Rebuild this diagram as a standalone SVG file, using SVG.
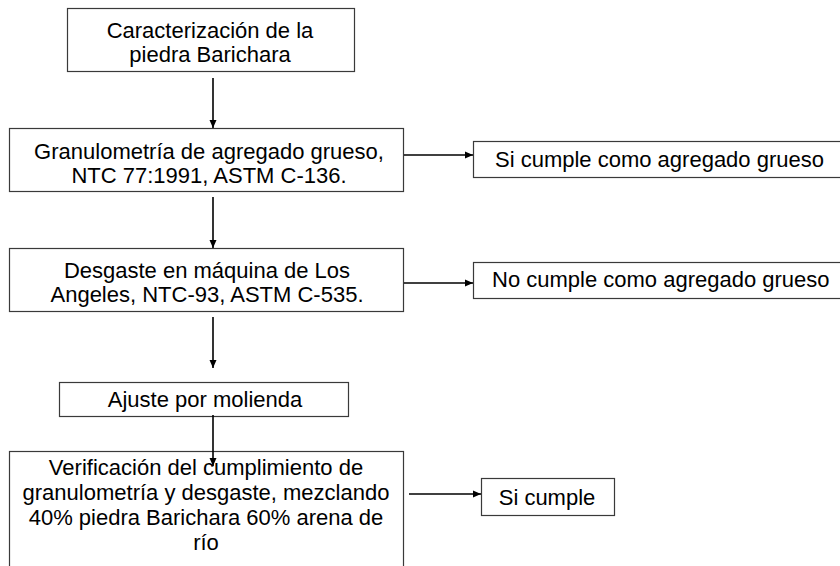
<svg xmlns="http://www.w3.org/2000/svg" width="840" height="566" viewBox="0 0 840 566">
<style>
.box{fill:#fff;stroke:#3a3a3a;stroke-width:1.2}
.t{font-family:"Liberation Sans",Arial,sans-serif;font-size:22px;fill:#000}
.c{text-anchor:middle}
.conn{stroke:#000;stroke-width:1.6;fill:none}
</style>
<defs>
<marker id="ah" markerUnits="userSpaceOnUse" markerWidth="9" markerHeight="8" refX="8" refY="4" orient="auto">
<path d="M0,0.5 L8,4 L0,7.5 z" fill="#000"/>
</marker>
</defs>
<rect width="840" height="566" fill="#fff"/>
<g id="n1">
<rect class="box" x="67.5" y="8.5" width="287" height="63"/>
<text class="t c" x="210" y="38">Caracterización de la</text>
<text class="t c" x="210" y="62">piedra Barichara</text>
</g>
<g id="n2">
<rect class="box" x="9.5" y="128.5" width="394" height="63"/>
<text class="t c" x="209" y="159">Granulometría de agregado grueso,</text>
<text class="t c" x="209" y="183">NTC 77:1991, ASTM C-136.</text>
</g>
<g id="n3">
<rect class="box" x="9.5" y="248.5" width="394" height="63"/>
<text class="t c" x="207" y="278">Desgaste en máquina de Los</text>
<text class="t c" x="207" y="302">Angeles, NTC-93, ASTM C-535.</text>
</g>
<g id="n4">
<rect class="box" x="59.5" y="382.5" width="289" height="34"/>
<text class="t c" x="205" y="407">Ajuste por molienda</text>
</g>
<g id="n5">
<rect class="box" x="9.5" y="451.5" width="394" height="130"/>
<text class="t c" x="206" y="475">Verificación del cumplimiento de</text>
<text class="t c" x="206" y="500">granulometría y desgaste, mezclando</text>
<text class="t c" x="206" y="525">40% piedra Barichara 60% arena de</text>
<text class="t c" x="206" y="550">río</text>
</g>
<g id="r1">
<rect class="box" x="473.5" y="141.5" width="380" height="36"/>
<text class="t" x="495" y="167">Si cumple como agregado grueso</text>
</g>
<g id="r2">
<rect class="box" x="473.5" y="262.5" width="380" height="36"/>
<text class="t" x="492" y="287">No cumple como agregado grueso</text>
</g>
<g id="r3">
<rect class="box" x="481.5" y="478.5" width="133" height="37"/>
<text class="t c" x="547" y="505">Si cumple</text>
</g>
<g id="connectors">
<line class="conn" x1="213" y1="78" x2="213" y2="128" marker-end="url(#ah)"/>
<line class="conn" x1="213" y1="197" x2="213" y2="248" marker-end="url(#ah)"/>
<line class="conn" x1="213" y1="317" x2="213" y2="368" marker-end="url(#ah)"/>
<line class="conn" x1="213" y1="415" x2="213" y2="466" marker-end="url(#ah)"/>
<line class="conn" x1="404" y1="155" x2="473" y2="155" marker-end="url(#ah)"/>
<line class="conn" x1="404" y1="283" x2="473" y2="283" marker-end="url(#ah)"/>
<line class="conn" x1="409" y1="494" x2="481" y2="494" marker-end="url(#ah)"/>
</g>
</svg>
